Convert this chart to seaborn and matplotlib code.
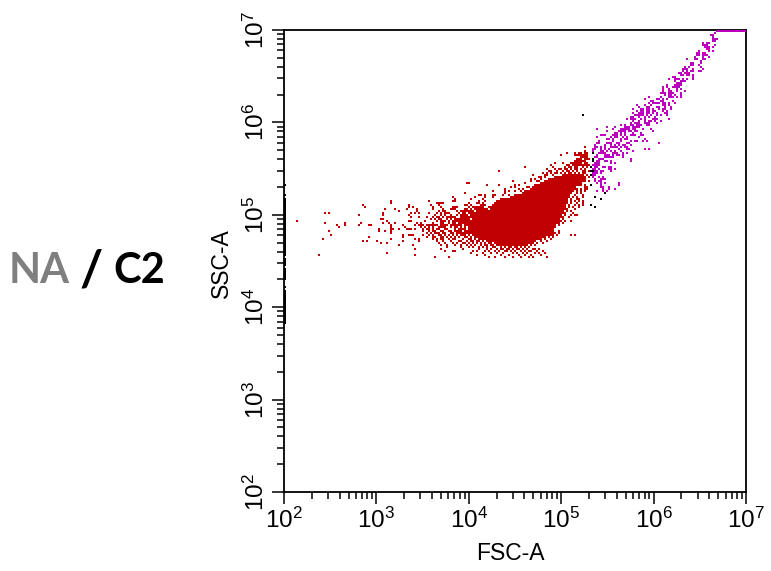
"""Flow cytometry dot plot, SSC-A against FSC-A, sample NA / C2.
Events are kept as binned display channels (231 channels over 5 decades), read off the picture.
"""
import numpy as np
import pandas as pd
import matplotlib
matplotlib.use("Agg")
import matplotlib.pyplot as plt
from matplotlib.ticker import LogLocator, NullFormatter
import seaborn as sns

# ---------------------------------------------------------------
# 1. Data: channels per row
# ---------------------------------------------------------------
# solid core of the red population: one row per SSC channel, first and last FSC channel
core_y = [158, 157, 156, 155, 154, 153, 152, 151, 150, 149, 148, 147, 146, 145, 144, 143, 142, 141,
          140, 139, 138, 137, 136, 135, 134, 133, 132, 131, 130, 129, 128, 127, 126, 125, 124, 123]
core_start = [139, 135, 132, 130, 128, 125, 124, 123, 120, 119, 115, 113, 108, 106, 105, 104, 103, 103,
              101, 100, 99, 99, 98, 98, 97, 96, 95, 95, 95, 95, 97, 99, 100, 102, 105, 108]
core_stop = [146, 147, 149, 149, 148, 148, 145, 145, 144, 143, 142, 142, 141, 141, 141, 140, 140, 140,
             139, 139, 138, 138, 137, 137, 136, 135, 135, 134, 134, 134, 133, 130, 128, 125, 124, 121]

# scattered red events
red_rows = [172, 170, 169, 168, 167, 166, 165, 164, 163, 162, 161, 160, 159, 158, 157, 156, 155, 154, 153, 152, 151,
            150, 149, 148, 147, 146, 145, 144, 143, 142, 141, 140, 139, 138, 137, 136, 135, 134, 133, 132, 131,
            130, 129, 128, 127, 126, 125, 124, 123, 122, 121, 120, 119, 118, 117]
red_cols = [
    [150],
    [150],
    [141, 145, 147, 148, 150, 151],
    [138, 145, 146, 147, 148, 149, 150, 151],
    [148, 149, 150, 151],
    [146, 147, 148, 150, 151, 152],
    [145, 146, 147, 148, 149, 150],
    [135, 139, 143, 144, 145, 146, 147, 148, 150, 151],
    [133, 141, 142, 144, 145, 146, 147, 148, 149, 150, 151, 152],
    [120, 134, 140, 142, 143, 145, 146, 149, 151],
    [131, 135, 137, 138, 140, 141, 143, 145, 146, 148, 150],
    [107, 132, 133, 136, 139, 141, 142, 144, 146, 149, 150, 152],
    [129, 131, 133, 135, 136, 138, 140, 142, 143, 145, 147, 149, 150],
    [124, 130, 131, 134, 147, 148, 149, 151],
    [127, 128, 130, 148, 149, 150, 152],
    [123, 125, 128, 150],
    [114, 123, 126, 127, 150, 152],
    [91, 92, 120],
    [101, 107, 115, 117, 148, 150],
    [113, 115, 121, 122, 150, 151],
    [110, 117, 119, 146, 148, 150, 151],
    [104, 110, 112, 115, 118, 146, 148, 150],
    [90, 110, 146, 148],
    [97, 98, 100, 104, 105, 109, 112, 145, 149],
    [84, 95, 100, 104, 144, 146, 149],
    [85, 93, 99, 143, 146, 147],
    [53, 72, 84, 85, 97, 100, 143, 145, 147, 149],
    [53, 76, 77, 78, 79, 92, 96, 97, 99, 105, 143, 146, 149],
    [39, 62, 73, 77, 90, 91, 93, 98, 99, 100, 142, 145, 147, 149],
    [40, 62, 64, 74, 78, 84, 85, 86, 92, 94, 95, 96, 97, 98, 99, 102, 142, 144, 147],
    [50, 55, 61, 66, 74, 79, 83, 84, 85, 90, 91, 93, 95, 96, 97, 98, 99, 100, 101, 141, 145],
    [57, 66, 77, 79, 80, 86, 88, 89, 90, 91, 92, 93, 94, 96, 97, 98, 99, 100, 101, 102, 141, 143],
    [20, 22, 49, 63, 65, 67, 72, 76, 78, 80, 81, 82, 87, 89, 90, 92, 93, 94, 95, 96, 97, 98, 99, 100, 140, 144],
    [37, 49, 62, 75, 78, 80, 83, 86, 88, 89, 90, 91, 93, 94, 95, 96, 97, 98, 99, 140, 143, 145, 146],
    [63, 67, 71, 74, 76, 77, 79, 81, 82, 83, 84, 85, 88, 89, 90, 91, 92, 93, 94, 95, 96, 97, 98, 139, 142],
    [48, 49, 73, 75, 77, 78, 81, 83, 85, 86, 87, 88, 89, 90, 91, 92, 94, 95, 96, 97, 139],
    [6, 51, 62, 63, 70, 76, 78, 79, 80, 82, 84, 85, 86, 87, 88, 89, 90, 91, 92, 93, 94, 95, 96, 97, 138, 140, 143],
    [20, 30, 38, 49, 52, 55, 66, 68, 74, 78, 79, 82, 84, 85, 87, 88, 89, 90, 91, 92, 93, 94, 95, 96, 137, 139],
    [26, 30, 37, 42, 43, 53, 59, 65, 67, 68, 69, 71, 72, 73, 74, 75, 76, 78, 79, 80, 81, 83, 84, 85, 86, 87, 88,
     90, 91, 92, 93, 94, 95, 137],
    [27, 53, 60, 68, 70, 72, 74, 77, 78, 79, 80, 83, 85, 86, 88, 90, 92, 93, 94, 95],
    [47, 53, 54, 57, 61, 62, 63, 65, 69, 71, 72, 74, 76, 77, 80, 81, 85, 87, 88, 89, 90, 92, 93, 94],
    [22, 47, 50, 53, 69, 72, 74, 75, 78, 79, 82, 83, 85, 86, 87, 88, 90, 91, 92, 93, 94, 137],
    [53, 71, 73, 75, 76, 77, 79, 80, 83, 84, 86, 87, 88, 89, 90, 91, 92, 93, 94, 135, 137],
    [23, 59, 62, 63, 64, 69, 72, 74, 77, 78, 80, 82, 84, 86, 88, 89, 90, 92, 94, 95, 96, 97, 98, 134, 136, 143, 145],
    [42, 59, 71, 74, 75, 78, 79, 81, 83, 85, 87, 90, 91, 93, 95, 96, 97, 98, 132, 134],
    [19, 53, 65, 67, 74, 76, 78, 79, 82, 84, 85, 89, 92, 93, 95, 97, 98, 99, 130, 133],
    [39, 41, 46, 59, 67, 76, 79, 83, 87, 88, 91, 93, 94, 96, 97, 99, 101, 128, 131],
    [48, 51, 77, 80, 84, 86, 89, 90, 92, 94, 96, 98, 100, 102, 103, 126, 129],
    [57, 64, 78, 81, 85, 88, 91, 93, 95, 98, 100, 101, 103, 104, 106, 107, 123, 125],
    [81, 88, 92, 94, 97, 99, 101, 104, 105, 108, 110, 112, 113, 115, 116, 118, 120, 122],
    [65, 78, 89, 97, 101, 103, 106, 108, 109, 111, 112, 114, 116, 117, 119, 121, 124, 125, 127],
    [80, 84, 85, 94, 96, 100, 102, 105, 107, 110, 111, 113, 115, 118, 120, 122, 123, 126, 129],
    [51, 93, 99, 103, 106, 109, 114, 116, 119, 121, 125, 127, 130],
    [17, 65, 96, 100, 108, 112, 117, 120, 123, 128],
    [75, 82, 102, 105, 110, 114, 118, 122, 124, 131],
]

# purple population along the diagonal
purple_rows = [229, 228, 227, 226, 225, 224, 223, 222, 221, 220, 219, 218, 217, 216, 215, 214, 213, 212, 211, 210,
               209, 208, 207, 206, 205, 204, 203, 202, 201, 200, 199, 198, 197, 196, 195, 194, 193, 192, 191, 190,
               189, 188, 187, 186, 185, 184, 183, 182, 181, 180, 179, 178, 177, 176, 175, 174, 173, 172, 171, 170,
               169, 168, 167, 166, 165, 164, 163, 162, 161, 160, 159, 158, 157, 156, 155, 154, 153, 152, 151, 150]
purple_cols = [
    [215], [213, 214], [214], [214, 215, 216], [214, 215],
    [209, 211, 212], [209, 210, 211, 215], [210, 211, 212, 214], [211, 212], [207, 212, 214],
    [206, 207, 209, 210], [206, 207, 209, 210, 211], [205, 209, 212], [201, 205, 206, 209, 210], [208],
    [203, 204, 208], [203, 204, 207], [200, 202, 208], [199, 200, 201, 204, 209], [199, 201, 203, 204, 207, 208],
    [197, 198, 200, 201, 202], [198, 199, 201, 202, 204], [194, 195, 204], [192, 195, 196, 197, 199, 201, 204],
    [195, 198, 199, 200], [196, 197, 198], [191, 195, 196, 197, 198], [189, 191, 194, 195, 196, 197],
    [189, 192, 196, 198], [189, 192, 193, 196, 200], [188, 189, 190, 192, 193, 194, 198],
    [190, 192, 193, 195, 198], [182, 188, 192, 193, 194, 196, 198], [180, 186, 187, 189, 191],
    [183, 184, 188, 189, 194], [182, 184, 185, 186, 187, 189, 190, 192, 195], [176, 180, 183, 189, 190, 192],
    [177, 181, 182, 186, 187, 190, 193], [174, 178, 179, 181, 182, 184, 187, 189, 190, 193],
    [176, 178, 179, 181, 182, 184, 185, 189, 191], [174, 177, 178, 179, 181, 182, 184, 186, 190, 191],
    [175, 176, 177, 178, 179, 181, 183, 186, 188, 191], [173, 174, 177, 180, 182, 185, 185],
    [171, 173, 174, 175, 178, 180, 184, 185, 186, 192], [174, 177, 180, 182, 183, 185, 188],
    [173, 175, 176, 177, 180, 181, 182, 186], [168, 170, 173, 174, 176, 177, 178, 181, 182],
    [161, 165, 170, 171, 172, 174, 175, 176, 177], [156, 164, 168, 169, 170, 171, 172, 174, 175, 179, 183],
    [161, 167, 168, 169, 170, 172, 173, 175, 176, 184], [165, 166, 168, 170, 174, 178],
    [158, 159, 160, 164, 165, 166, 168, 170, 173, 174, 175, 178, 179], [156, 163, 165, 166, 169, 171, 177],
    [161, 162, 164, 168, 170, 171, 180], [157, 164, 168, 173, 175, 176, 179, 181],
    [156, 157, 161, 162, 163, 166, 167, 171, 172, 187], [155, 160, 163, 165, 167, 169, 170, 173],
    [155, 156, 158, 160, 163, 164, 165, 166, 168, 170, 171], [154, 155, 158, 160, 162, 167, 171, 172, 180, 182],
    [154, 158, 159, 161, 163, 165, 168, 174], [157, 158, 159, 160, 164, 165, 166, 169, 171],
    [156, 160, 161, 162, 164, 166, 167, 169], [155, 156, 160, 161, 162, 163, 164, 169], [157, 158, 159, 173],
    [156, 157, 160, 161, 163, 173], [155, 156, 157, 163, 165], [154, 155, 156, 157],
    [155, 156, 159, 160, 162, 163], [154, 155, 157, 162, 163, 165], [155, 156, 158, 159, 163],
    [154, 155, 156, 158], [154, 155, 154], [154, 157, 159], [155, 158, 159, 160], [155, 157, 158, 158],
    [156, 158, 160, 167], [158, 167], [158, 159, 162], [162, 165, 159], [156, 159, 161],
]
# saturated events along the top edge
top_cols = list(range(216, 231))
top_row = 230

# black (ungated) events
black_cols = [149, 154, 154, 154, 153, 153, 154, 153, 153, 155, 158, 160, 153, 155]
black_rows = [188, 169, 166, 165, 162, 160, 160, 158, 153, 147, 146, 149, 143, 142]
# events piled on the low FSC edge
edge_rows = [153, 148, 146, 145, 144, 143, 142, 141, 140, 139, 138, 137, 136, 135, 134, 133, 132, 131, 130, 129,
             128, 127, 126, 125, 124, 123, 122, 121, 120, 119, 118, 116, 115, 114, 113, 111, 110, 109, 108, 107,
             106, 102, 100, 99, 98, 97, 96, 95, 94, 93, 92, 91, 90, 89, 88, 87, 86, 85, 84]

# ---------------------------------------------------------------
# 2. Channels to table
# ---------------------------------------------------------------
def to_signal(ch):
    return 10 ** (2 + (np.asarray(ch, dtype=float) + 0.5) * 5 / 231)

xs, ys, pops = [], [], []
for y, a, b in zip(core_y, core_start, core_stop):
    for x in range(a, b + 1):
        xs.append(x); ys.append(y); pops.append("red")
for y, cols in zip(red_rows, red_cols):
    for x in cols:
        xs.append(x); ys.append(y); pops.append("red")
for y, cols in zip(purple_rows, purple_cols):
    for x in cols:
        xs.append(x); ys.append(y); pops.append("purple")
for x in top_cols:
    xs.append(x); ys.append(top_row); pops.append("purple")
for x, y in zip(black_cols, black_rows):
    xs.append(x); ys.append(y); pops.append("black")
for y in edge_rows:
    xs.append(0); ys.append(y); pops.append("black")

df = pd.DataFrame({"FSC-A": to_signal(xs), "SSC-A": to_signal(ys), "pop": pops})

# ---------------------------------------------------------------
# 3. Plot
# ---------------------------------------------------------------
sns.set_style("ticks")
plt.rcParams["font.family"] = ["Liberation Sans", "DejaVu Sans"]
plt.rcParams["mathtext.fontset"] = "custom"
plt.rcParams["mathtext.rm"] = "Liberation Sans"
plt.rcParams["mathtext.default"] = "regular"

fig = plt.figure(figsize=(7.71, 5.71), dpi=100)
ax = fig.add_axes([284 / 771, 79 / 571, 462 / 771, 462 / 571])

sns.scatterplot(data=df, x="FSC-A", y="SSC-A", hue="pop", ax=ax, marker="s", s=2.6, linewidth=0, legend=False,
                palette={"red": "#C00000", "purple": "#BE00BE", "black": "#000000"}, clip_on=False, zorder=3)

ax.set_xscale("log")
ax.set_yscale("log")
ax.set_xlim(1e2, 1e7)
ax.set_ylim(1e2, 1e7)

for axis in (ax.xaxis, ax.yaxis):
    axis.set_major_locator(LogLocator(base=10, numticks=12))
    axis.set_minor_locator(LogLocator(base=10, subs=range(2, 10), numticks=12))
    axis.set_minor_formatter(NullFormatter())
ax.tick_params(which="major", length=8.5, width=1.1, labelsize=17.5, color="black", labelcolor="black", pad=2.5)
ax.tick_params(which="minor", length=5, width=1.1, color="black")
plt.setp(ax.get_yticklabels(), rotation=90, va="center")

ax.set_xlabel("FSC-A", fontsize=16.5, color="black")
ax.set_ylabel("SSC-A", fontsize=16.5, color="black")
ax.xaxis.set_label_coords(0.491, -0.108)
ax.yaxis.set_label_coords(-0.11, 0.496)
for side in ax.spines.values():
    side.set_visible(True)
    side.set_linewidth(1.3)
    side.set_color("black")

fig.text(9 / 771, 1 - 283 / 571, "NA", fontsize=30, family="Lato", weight="bold", color="#7F7F7F")
fig.text(80 / 771, 1 - 286 / 571, "/", fontsize=36, family="Lato", weight="bold", color="black")
fig.text(113 / 771, 1 - 283 / 571, "C2", fontsize=30, family="Lato", weight="bold", color="black")

fig.savefig("out.png", dpi=100)
plt.close(fig)
